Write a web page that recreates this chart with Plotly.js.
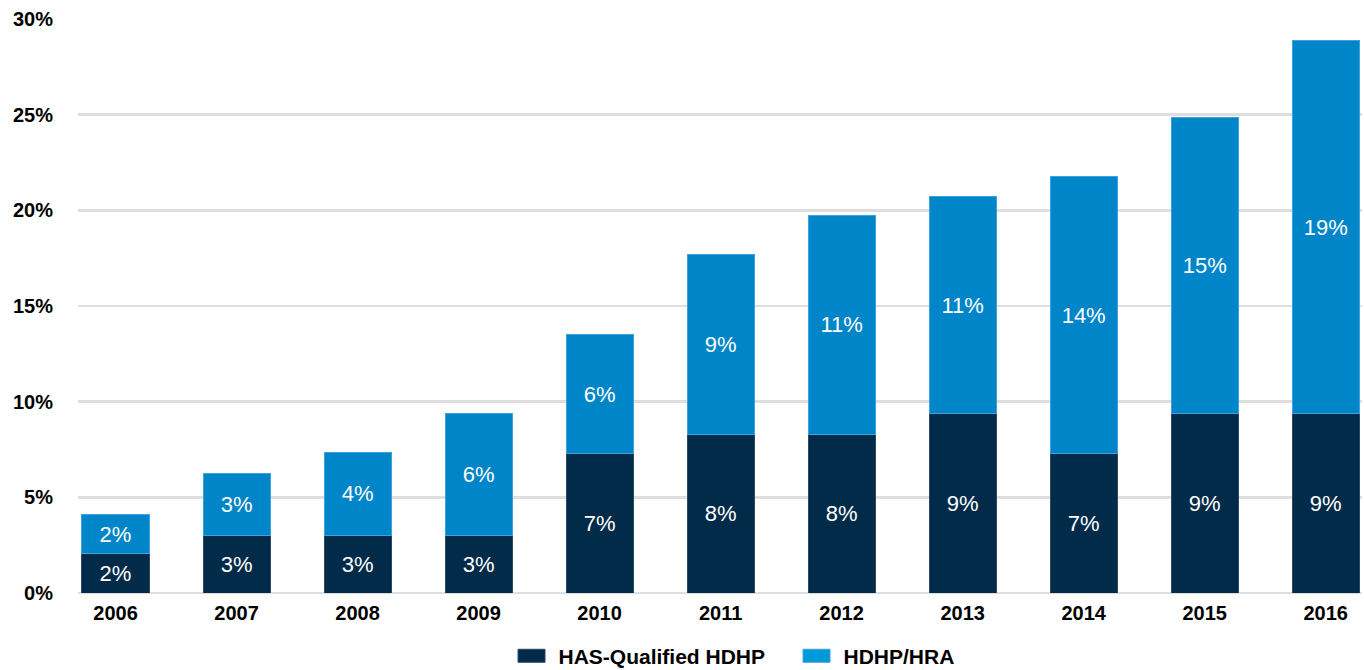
<!DOCTYPE html>
<html>
<head>
<meta charset="utf-8">
<script src="https://cdn.plot.ly/plotly-3.0.1.min.js"></script>
<style>
  html, body { margin: 0; padding: 0; background: #ffffff; }
  #chart { width: 1364px; height: 670px; }
</style>
</head>
<body>
<div id="chart"></div>
<script>
// Plan-type enrollment share by year (percent of covered workers)
const years = ['2006', '2007', '2008', '2009', '2010', '2011', '2012', '2013', '2014', '2015', '2016'];
const hsaQualified = [2.06, 3.03, 3.03, 3.03, 7.28, 8.27, 8.27, 9.37, 7.28, 9.37, 9.37];
const hdhpHra = [2.04, 3.19, 4.29, 6.35, 6.22, 9.42, 11.48, 11.36, 14.49, 15.49, 19.49];
const seriesNames = ['HAS-Qualified HDHP', 'HDHP/HRA'];
const yTicks = [0, 5, 10, 15, 20, 25, 30];

const DARK = '#022b4a';
const LIGHT = '#0085c9';
const LIGHT_KEY = '#0099d8';
const FONT = 'Liberation Sans, Arial, sans-serif';

const pctLabel = v => Math.round(v) + '%';

function barTrace(name, values, color, edge) {
  return {
    type: 'bar',
    name: name,
    x: years,
    y: values,
    text: values.map(pctLabel),
    textposition: 'inside',
    insidetextanchor: 'middle',
    textangle: 0,
    constraintext: 'none',
    textfont: { family: FONT, size: 22, color: '#ffffff' },
    marker: { color: color, line: { color: edge, width: 1 } },
    hoverinfo: 'skip'
  };
}

const data = [
  barTrace(seriesNames[0], hsaQualified, DARK, '#2c4a66'),
  barTrace(seriesNames[1], hdhpHra, LIGHT, '#3ea2dc')
];

const layout = {
  width: 1364,
  height: 670,
  margin: { l: 78, r: 2, t: 19, b: 77, pad: 0 },
  paper_bgcolor: '#ffffff',
  plot_bgcolor: '#ffffff',
  barmode: 'stack',
  bargap: 0.446,
  showlegend: true,
  font: { family: FONT, color: '#000000' },
  xaxis: {
    type: 'category',
    range: [-0.31, 10.30],
    showgrid: false,
    showline: false,
    zeroline: false,
    ticks: '',
    ticklabelstandoff: 6,
    tickfont: { family: FONT, size: 20, color: '#000000', weight: 'bold' },
    fixedrange: true
  },
  yaxis: {
    range: [0, 30],
    tickvals: yTicks,
    ticktext: yTicks.map(v => v + '%'),
    showgrid: true,
    gridcolor: '#dedede',
    gridwidth: 2.5,
    zeroline: true,
    zerolinecolor: '#dedede',
    zerolinewidth: 2.5,
    showline: false,
    ticks: '',
    ticklabelstandoff: 24,
    tickfont: { family: FONT, size: 20, color: '#000000', weight: 'bold' },
    fixedrange: true
  },
  legend: {
    orientation: 'h',
    traceorder: 'normal',
    x: 0.3353,
    xanchor: 'left',
    y: -0.13,
    yanchor: 'bottom',
    font: { family: FONT, size: 21, color: '#000000', weight: 'bold' },
    itemwidth: 40,
    entrywidth: 230,
    tracegroupgap: 0,
    bgcolor: 'rgba(0,0,0,0)'
  }
};

Plotly.newPlot('chart', data, layout, { displayModeBar: false, staticPlot: true }).then(function (gd) {
  // flat rectangular legend swatches, the HRA key in a brighter blue
  gd.querySelectorAll('.legend .traces').forEach(function (item, i) {
    item.querySelectorAll('.legendpoints path').forEach(function (p) {
      p.setAttribute('d', 'M11.5,6.5H-15.5V-6.5H11.5Z');
      if (i === 1) p.style.setProperty('fill', LIGHT_KEY, 'important');
    });
  });
  // nudge the key row a little closer to the bottom edge
  const leg = gd.querySelector('.legend');
  if (leg) {
    const m = /translate\(([-\d.]+)[ ,]+([-\d.]+)\)/.exec(leg.getAttribute('transform') || '');
    if (m) leg.setAttribute('transform', 'translate(' + m[1] + ',' + (parseFloat(m[2]) + 9) + ')');
  }
});
</script>
</body>
</html>
